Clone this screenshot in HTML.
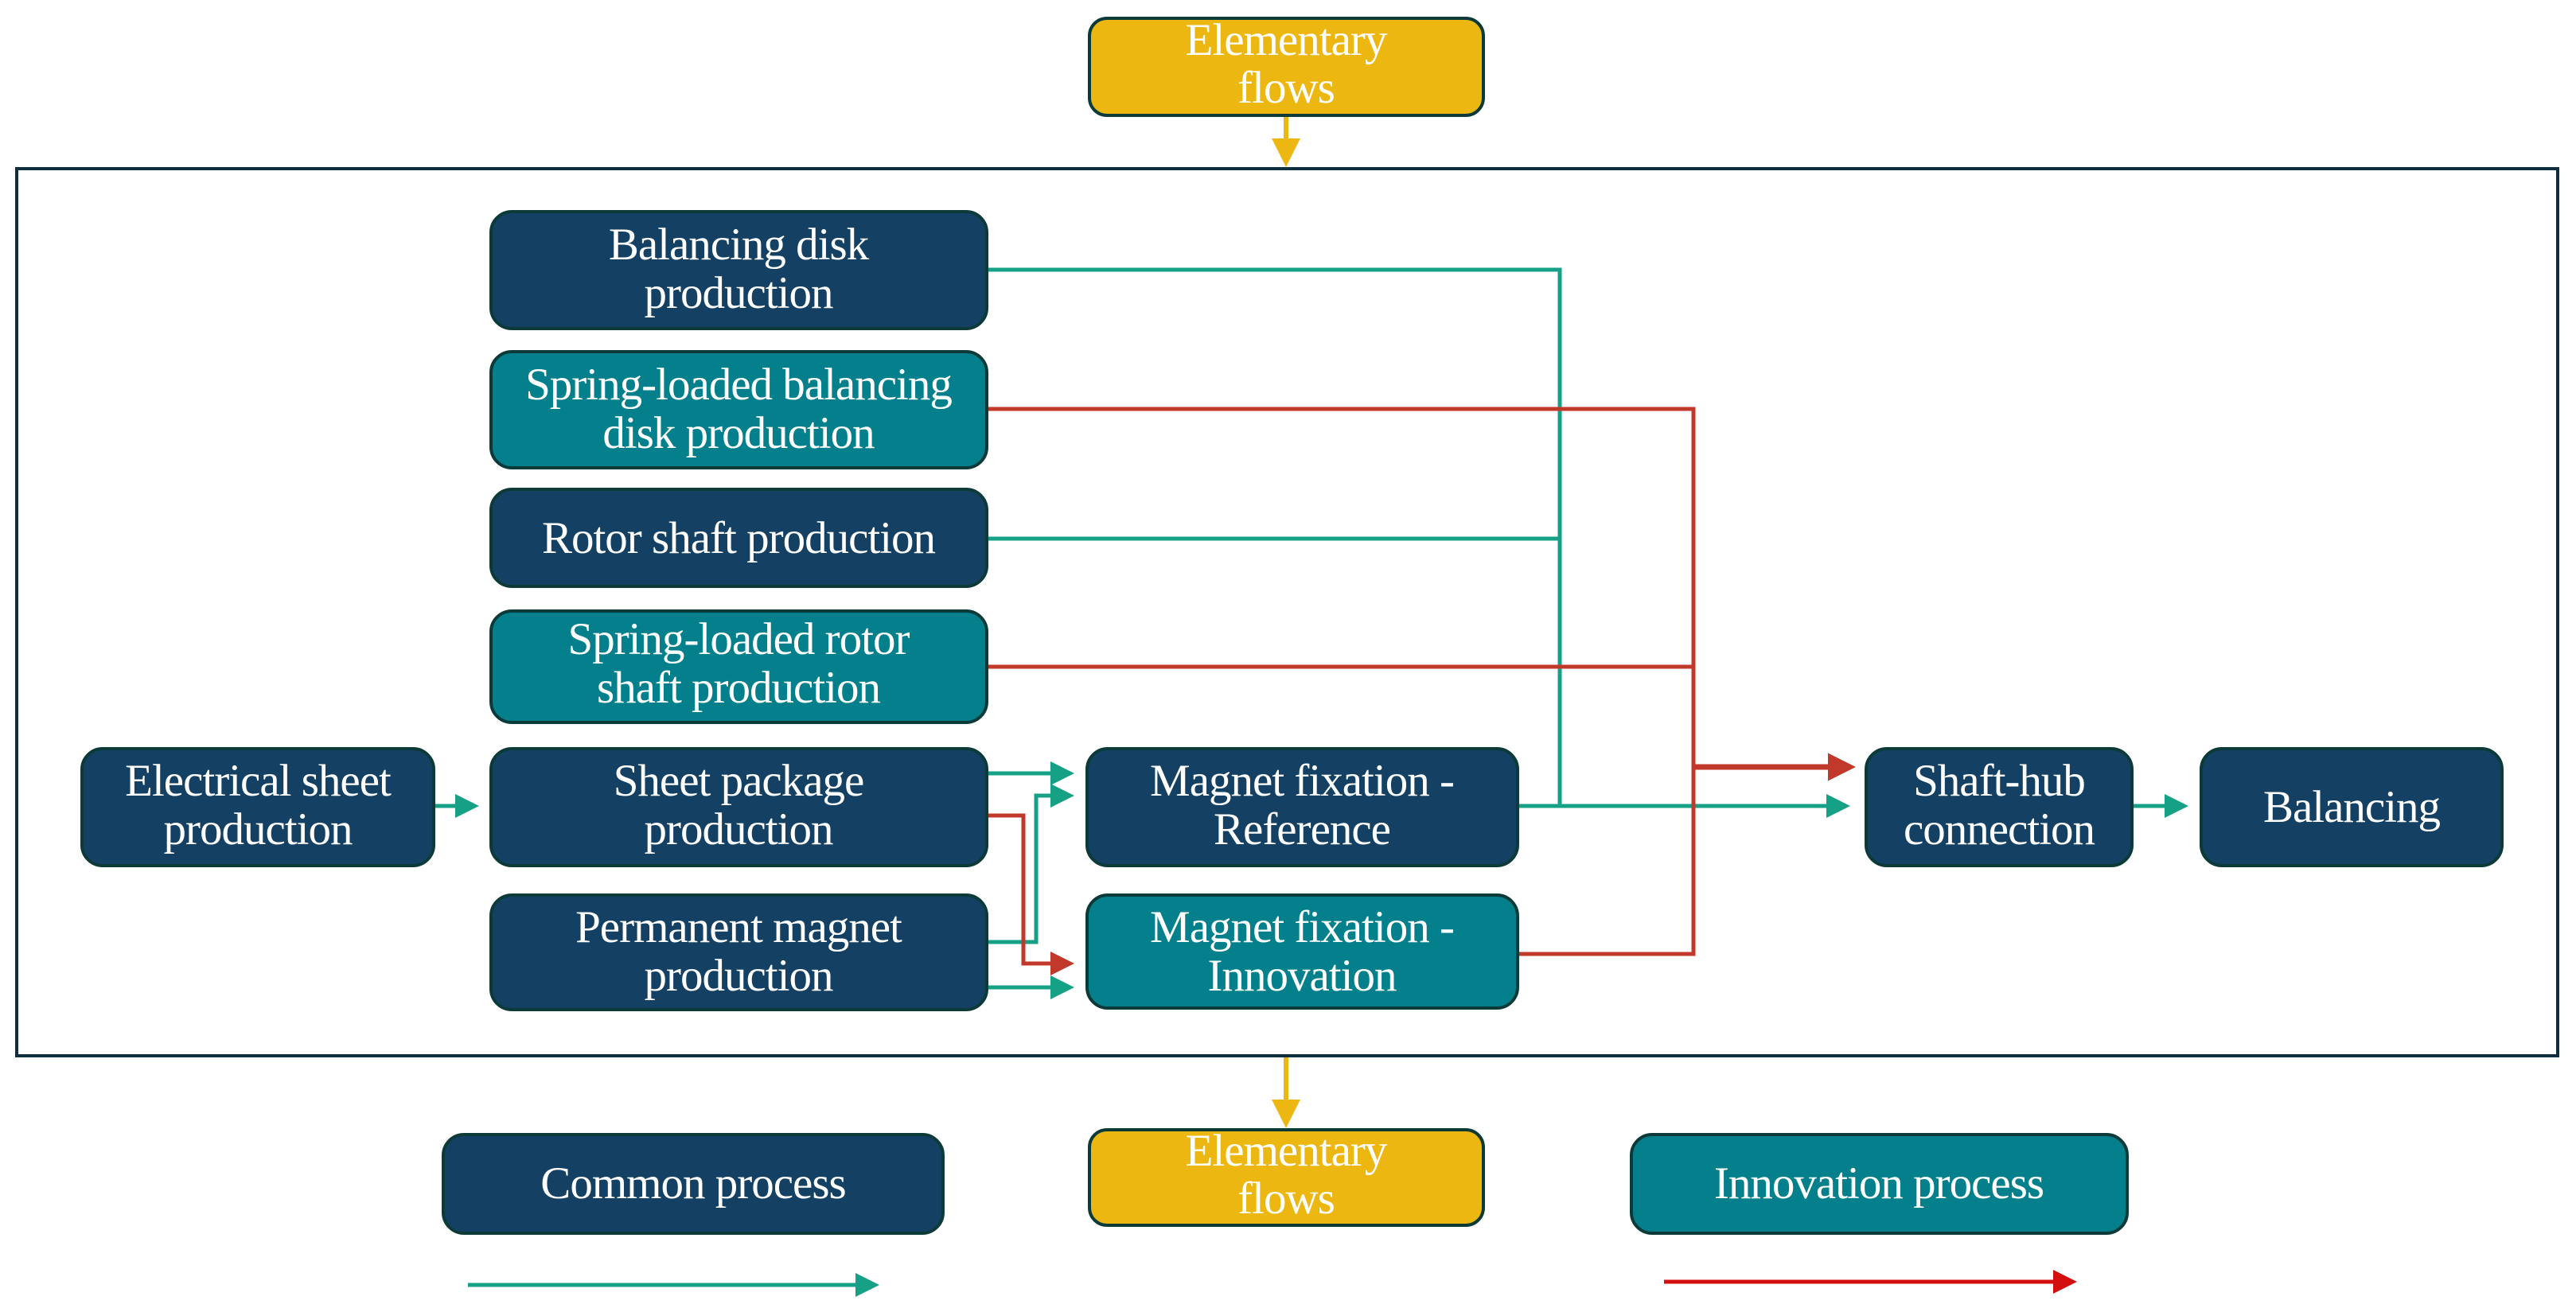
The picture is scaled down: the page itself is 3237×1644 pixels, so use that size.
<!DOCTYPE html>
<html><head><meta charset="utf-8"><style>
html,body{margin:0;padding:0;background:#fff;}
svg{display:block}
text{font-family:"Liberation Serif",serif;font-size:57px;fill:#fff;text-anchor:middle;letter-spacing:-1px;}
</style></head><body>
<svg width="3237" height="1644" viewBox="0 0 3237 1644" xmlns="http://www.w3.org/2000/svg">
<defs>
<marker id="ag" markerWidth="6" markerHeight="6" refX="5" refY="3" orient="auto" markerUnits="strokeWidth"><path d="M0,0 L6,3 L0,6 z" fill="#16a086"/></marker>
<marker id="ar" markerWidth="6" markerHeight="6" refX="5" refY="3" orient="auto" markerUnits="strokeWidth"><path d="M0,0 L6,3 L0,6 z" fill="#c0392b"/></marker>
<marker id="ar2" markerWidth="5" markerHeight="5" refX="4" refY="2.5" orient="auto" markerUnits="strokeWidth"><path d="M0,0 L5,2.5 L0,5 z" fill="#c0392b"/></marker>
<marker id="arl" markerWidth="6" markerHeight="6" refX="5" refY="3" orient="auto" markerUnits="strokeWidth"><path d="M0,0 L6,3 L0,6 z" fill="#d40f0f"/></marker>
<marker id="ay" markerWidth="6" markerHeight="6" refX="5" refY="3" orient="auto" markerUnits="strokeWidth"><path d="M0,0 L6,3 L0,6 z" fill="#edb711"/></marker>
</defs>

<rect x="21" y="212" width="3193" height="1115" fill="none" stroke="#0f2f3f" stroke-width="4"/>

<line x1="1616" y1="145" x2="1616" y2="204" stroke="#edb711" stroke-width="6" marker-end="url(#ay)"/>
<line x1="1616" y1="1329" x2="1616" y2="1412" stroke="#edb711" stroke-width="6" marker-end="url(#ay)"/>

<g fill="none" stroke-width="5">
<polyline points="1240,339 1960,339 1960,1013" stroke="#16a086"/>
<polyline points="1240,677 1960,677" stroke="#16a086"/>
<polyline points="1907,1013 2320,1013" stroke="#16a086" marker-end="url(#ag)"/>
<polyline points="2679,1013 2745,1013" stroke="#16a086" marker-end="url(#ag)"/>
<polyline points="545,1013 597,1013" stroke="#16a086" marker-end="url(#ag)"/>
<polyline points="1240,972 1345,972" stroke="#16a086" marker-end="url(#ag)"/>
<polyline points="1240,1184 1302,1184 1302,1000 1345,1000" stroke="#16a086" marker-end="url(#ag)"/>
<polyline points="1240,1241 1345,1241" stroke="#16a086" marker-end="url(#ag)"/>
<polyline points="1240,514 2128,514 2128,1199 1907,1199" stroke="#c0392b"/>
<polyline points="1240,838 2128,838" stroke="#c0392b"/>
<polyline points="2128,964 2325,964" stroke="#c0392b" stroke-width="7" marker-end="url(#ar2)"/>
<polyline points="1240,1025 1286,1025 1286,1211 1345,1211" stroke="#c0392b" marker-end="url(#ar)"/>
<polyline points="588,1615 1100,1615" stroke="#16a086" marker-end="url(#ag)"/>
<polyline points="2091,1611 2605,1611" stroke="#d40f0f" marker-end="url(#arl)"/>
</g>

<g stroke="#0c3a38" stroke-width="4">
<rect x="1369" y="23" width="495" height="122" rx="22" fill="#edb711"/>
<rect x="617" y="266" width="623" height="147" rx="26" fill="#144163"/>
<rect x="617" y="442" width="623" height="146" rx="26" fill="#03808b"/>
<rect x="617" y="615" width="623" height="122" rx="26" fill="#144163"/>
<rect x="617" y="768" width="623" height="140" rx="26" fill="#03808b"/>
<rect x="103" y="941" width="442" height="147" rx="26" fill="#144163"/>
<rect x="617" y="941" width="623" height="147" rx="26" fill="#144163"/>
<rect x="617" y="1125" width="623" height="144" rx="26" fill="#144163"/>
<rect x="1366" y="941" width="541" height="147" rx="26" fill="#144163"/>
<rect x="1366" y="1125" width="541" height="142" rx="26" fill="#03808b"/>
<rect x="2345" y="941" width="334" height="147" rx="26" fill="#144163"/>
<rect x="2766" y="941" width="378" height="147" rx="26" fill="#144163"/>
<rect x="557" y="1426" width="628" height="124" rx="26" fill="#144163"/>
<rect x="1369" y="1420" width="495" height="120" rx="22" fill="#edb711"/>
<rect x="2050" y="1426" width="623" height="124" rx="26" fill="#03808b"/>
</g>

<text x="1616" y="69">Elementary</text><text x="1616" y="129">flows</text>
<text x="928" y="326">Balancing disk</text><text x="928" y="387">production</text>
<text x="928" y="502">Spring-loaded balancing</text><text x="928" y="563">disk production</text>
<text x="928" y="695">Rotor shaft production</text>
<text x="928" y="822">Spring-loaded rotor</text><text x="928" y="883">shaft production</text>
<text x="324" y="1000">Electrical sheet</text><text x="324" y="1061">production</text>
<text x="928" y="1000">Sheet package</text><text x="928" y="1061">production</text>
<text x="928" y="1184">Permanent magnet</text><text x="928" y="1245">production</text>
<text x="1636" y="1000">Magnet fixation -</text><text x="1636" y="1061">Reference</text>
<text x="1636" y="1184">Magnet fixation -</text><text x="1636" y="1245">Innovation</text>
<text x="2512" y="1000">Shaft-hub</text><text x="2512" y="1061">connection</text>
<text x="2955" y="1033">Balancing</text>
<text x="871" y="1506">Common process</text>
<text x="1616" y="1465">Elementary</text><text x="1616" y="1525">flows</text>
<text x="2361" y="1506">Innovation process</text>
</svg>
</body></html>
